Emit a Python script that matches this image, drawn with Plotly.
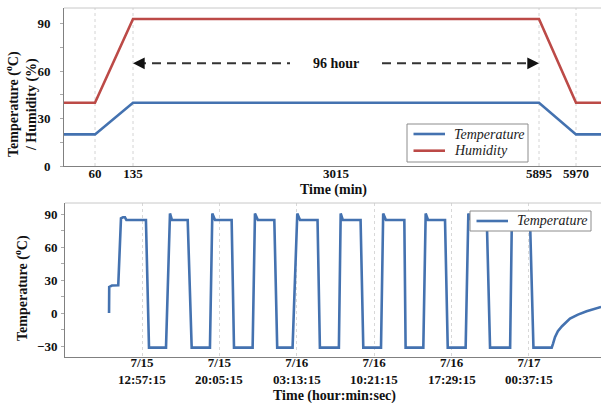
import numpy as np
import plotly.graph_objects as go

# ---------------- data ----------------
# Top panel: programmed profile (time in minutes)
profile_time_min = [0, 60, 135, 5895, 5970, 6030]
profile_temperature = [20, 20, 40, 40, 20, 20]
profile_humidity = [40, 40, 93, 93, 40, 40]
profile_ticks = [60, 135, 3015, 5895, 5970]
hold_label = "96 hour"
hold_arrow_level = 65

# broken (piecewise) time scale of the top panel
scale_break_min = [0, 60, 135, 5895, 5970, 6030]
scale_break_pos = [0, 31, 69, 475, 512, 537]

# Bottom panel: measured temperature
measured_time = [
    "2021-07-15 09:55", "2021-07-15 09:56", "2021-07-15 10:11", "2021-07-15 10:46",
    "2021-07-15 11:01", "2021-07-15 11:12", "2021-07-15 11:23", "2021-07-15 11:31",
    "2021-07-15 13:19", "2021-07-15 13:36", "2021-07-15 15:10", "2021-07-15 15:32",
    "2021-07-15 15:43", "2021-07-15 17:10", "2021-07-15 17:32", "2021-07-15 19:13",
    "2021-07-15 19:26", "2021-07-15 19:41", "2021-07-15 21:13", "2021-07-15 21:26",
    "2021-07-15 23:09", "2021-07-15 23:22", "2021-07-15 23:38", "2021-07-16 01:09",
    "2021-07-16 01:25", "2021-07-16 02:50", "2021-07-16 03:16", "2021-07-16 03:31",
    "2021-07-16 05:08", "2021-07-16 05:21", "2021-07-16 07:06", "2021-07-16 07:16",
    "2021-07-16 07:28", "2021-07-16 09:06", "2021-07-16 09:21", "2021-07-16 10:59",
    "2021-07-16 11:11", "2021-07-16 11:26", "2021-07-16 13:08", "2021-07-16 13:15",
    "2021-07-16 14:53", "2021-07-16 15:06", "2021-07-16 15:19", "2021-07-16 16:53",
    "2021-07-16 17:08", "2021-07-16 18:47", "2021-07-16 19:02", "2021-07-16 19:17",
    "2021-07-16 20:44", "2021-07-16 21:02", "2021-07-16 22:53", "2021-07-16 23:03",
    "2021-07-16 23:20", "2021-07-17 00:43", "2021-07-17 01:02", "2021-07-17 02:43",
    "2021-07-17 02:50", "2021-07-17 03:01", "2021-07-17 03:17", "2021-07-17 03:40",
    "2021-07-17 04:24", "2021-07-17 05:08", "2021-07-17 05:56", "2021-07-17 07:16",
]
measured_temperature = [
    0, 23.7, 25, 25.2,
    86, 87, 87, 84.5,
    84.5, -31.5, -31.5, 90.5,
    84.5, 84.5, -31.5, -31.5,
    90.5, 84.5, 84.5, -31.5,
    -31.5, 90.5, 84.5, 84.5,
    -31.5, -31.5, 90.5, 84.5,
    84.5, -31.5, -31.5, 90.5,
    84.5, 84.5, -31.5, -31.5,
    90.5, 84.5, 84.5, -31.5,
    -31.5, 90.5, 84.5, 84.5,
    -31.5, -31.5, 90.5, 84.5,
    84.5, -31.5, -31.5, 90.5,
    84.5, 84.5, -31.5, -31.5,
    -28, -22, -16.5, -12,
    -5.1, -1.5, 1.5, 5.5,
]
time_ticks = ["2021-07-15 12:57:15", "2021-07-15 20:05:15", "2021-07-16 03:13:15",
              "2021-07-16 10:21:15", "2021-07-16 17:29:15", "2021-07-17 00:37:15"]
tick_dates = ["7/15", "7/15", "7/16", "7/16", "7/16", "7/17"]
tick_clock = ["12:57:15", "20:05:15", "03:13:15", "10:21:15", "17:29:15", "00:37:15"]
time_range = ["2021-07-15 05:51:27", "2021-07-17 07:15:33"]

top_legend_names = ["Temperature", "Humidity"]
bottom_legend_names = ["Temperature"]


def to_pos(t):
    return np.interp(t, scale_break_min, scale_break_pos)


BLUE = "#4472B0"
RED = "#BC4A47"
FONT = "Liberation Serif"
AXIS_COL = "#808080"
W, H = 601, 403

fig = go.Figure()

fig.add_trace(go.Scatter(x=to_pos(profile_time_min), y=profile_temperature, mode="lines",
                         name=top_legend_names[0], line=dict(color=BLUE, width=2.6),
                         xaxis="x", yaxis="y", showlegend=False))
fig.add_trace(go.Scatter(x=to_pos(profile_time_min), y=profile_humidity, mode="lines",
                         name=top_legend_names[1], line=dict(color=RED, width=2.6),
                         xaxis="x", yaxis="y", showlegend=False))
fig.add_trace(go.Scatter(x=measured_time, y=measured_temperature, mode="lines",
                         name=bottom_legend_names[0], line=dict(color=BLUE, width=2.6),
                         xaxis="x2", yaxis="y2", showlegend=False))

tick_font = dict(family=FONT, size=13, color="#111111", weight="bold")

fig.update_layout(
    width=W, height=H, autosize=False,
    margin=dict(l=0, r=0, t=0, b=0, autoexpand=False),
    paper_bgcolor="white", plot_bgcolor="white",
    font=dict(family=FONT, color="#111111"),
    xaxis=dict(domain=[64 / W, 1], range=[0, scale_break_pos[-1]], anchor="y",
               tickvals=to_pos(profile_ticks), ticktext=[str(v) for v in profile_ticks],
               showgrid=False, zeroline=False, showline=True, linecolor=AXIS_COL,
               linewidth=1, ticks="", tickfont=tick_font, ticklabelstandoff=-5,
               automargin=False),
    yaxis=dict(domain=[1 - 166 / H, 1 - 8 / H], range=[0, 100], anchor="x",
               tickvals=[0, 30, 60, 90], showgrid=False, zeroline=False,
               showline=True, linecolor=AXIS_COL, linewidth=1, ticks="",
               minor=dict(dtick=15, ticks="outside", ticklen=3, tickcolor="#aaaaaa"),
               tickfont=tick_font, ticklabelstandoff=10, automargin=False),
    xaxis2=dict(domain=[65 / W, 1], type="date", range=time_range, anchor="y2",
                tickvals=time_ticks, ticktext=tick_dates,
                showgrid=True, gridcolor="#d8d8d8", griddash="dot", gridwidth=1,
                zeroline=False, showline=True, linecolor=AXIS_COL, linewidth=1,
                ticks="", tickfont=tick_font, ticklabelstandoff=-7, automargin=False),
    yaxis2=dict(domain=[1 - 357 / H, 1 - 203 / H], range=[-40, 100], anchor="x2",
                tickvals=[-30, 0, 30, 60, 90], showgrid=False, zeroline=False,
                showline=True, linecolor=AXIS_COL, linewidth=1, ticks="",
                minor=dict(dtick=15, ticks="outside", ticklen=3, tickcolor="#aaaaaa"),
                tickfont=tick_font, ticklabelstandoff=4, automargin=False),
    showlegend=False,
)

shapes = []
# top borders (light)
for ya, xa in (("y", "x"), ("y2", "x2")):
    shapes.append(dict(type="line", xref=f"{xa} domain", yref=f"{ya} domain",
                       x0=0, x1=1, y0=1, y1=1, line=dict(color="#c8c8c8", width=1)))
# dotted guide lines in the top panel at the profile breakpoints
for t in profile_time_min[1:5]:
    p = float(to_pos(t))
    shapes.append(dict(type="line", xref="x", yref="y domain", x0=p, x1=p, y0=0, y1=1,
                       line=dict(color="#d4d4d4", width=1, dash="dot"), layer="below"))
# dashed hold arrows
hold_start = float(to_pos(profile_time_min[2]))
hold_end = float(to_pos(profile_time_min[3]))
hold_mid = float(to_pos((profile_time_min[2] + profile_time_min[3]) / 2))
gap = 46
shapes.append(dict(type="line", xref="x", yref="y", x0=hold_start + 4, x1=hold_mid - gap,
                   y0=hold_arrow_level, y1=hold_arrow_level,
                   line=dict(color="#333333", width=2, dash="9px,6px")))
shapes.append(dict(type="line", xref="x", yref="y", x0=hold_mid + gap, x1=hold_end - 4,
                   y0=hold_arrow_level, y1=hold_arrow_level,
                   line=dict(color="#333333", width=2, dash="9px,6px")))

title_font = dict(family=FONT, size=14, color="#111111")
legend_font = dict(family=FONT, size=14, color="#222222", style="italic")
ann = [
    dict(text="<b>Temperature (<sup>o</sup>C)<br>/ Humidity (%)</b>", xref="paper", yref="paper",
         x=21 / W, y=1 - 104 / H, textangle=-90, showarrow=False,
         xanchor="center", yanchor="middle", font=title_font),
    dict(text="<b>Time (min)</b>", xref="paper", yref="paper", x=334 / W, y=1 - 190 / H,
         showarrow=False, xanchor="center", yanchor="middle", font=title_font),
    dict(text="<b>Temperature (<sup>o</sup>C)</b>", xref="paper", yref="paper",
         x=21 / W, y=1 - 288 / H, textangle=-90, showarrow=False,
         xanchor="center", yanchor="middle", font=title_font),
    dict(text="<b>Time (hour:min:sec)</b>", xref="paper", yref="paper", x=335 / W,
         y=1 - 395.5 / H, showarrow=False, xanchor="center", yanchor="middle", font=title_font),
    dict(text=f"<b>{hold_label}</b>", xref="x", yref="y", x=hold_mid, y=hold_arrow_level,
         showarrow=False, xanchor="center", yanchor="middle", font=title_font),
    dict(text="", xref="x", yref="y", x=hold_start, y=hold_arrow_level,
         ax=hold_start + 6, ay=hold_arrow_level, axref="x", ayref="y",
         showarrow=True, arrowhead=2, arrowsize=1.3, arrowwidth=1.8, arrowcolor="#111111",
         standoff=0),
    dict(text="", xref="x", yref="y", x=hold_end, y=hold_arrow_level,
         ax=hold_end - 6, ay=hold_arrow_level, axref="x", ayref="y",
         showarrow=True, arrowhead=2, arrowsize=1.3, arrowwidth=1.8, arrowcolor="#111111",
         standoff=0),
]
# second line of the date-time tick labels (clock time), placed at the tick values
for tv, tc in zip(time_ticks, tick_clock):
    ann.append(dict(text=f"<b>{tc}</b>", xref="x2", yref="paper", x=tv, y=1 - 379.5 / H,
                    showarrow=False, xanchor="center", yanchor="middle",
                    font=dict(family=FONT, size=13, color="#111111")))


# legends (boxed, drawn to match the original compact layout)
def add_legend(x0, y0, x1, y1, names, colors, row_h):
    shapes.append(dict(type="rect", xref="paper", yref="paper",
                       x0=x0 / W, x1=x1 / W, y0=1 - y0 / H, y1=1 - y1 / H,
                       fillcolor="white", line=dict(color="#8c8c8c", width=1), layer="above"))
    for i, (nm, col) in enumerate(zip(names, colors)):
        yc = y0 + 10 + i * row_h
        shapes.append(dict(type="line", xref="paper", yref="paper",
                           x0=(x0 + 6.5) / W, x1=(x0 + 38) / W, y0=1 - yc / H, y1=1 - yc / H,
                           line=dict(color=col, width=2.6), layer="above"))
        ann.append(dict(text=nm, xref="paper", yref="paper", x=(x0 + 45) / W, y=1 - yc / H,
                        showarrow=False, xanchor="left", yanchor="middle", font=legend_font))


add_legend(407, 124, 528, 162, top_legend_names, [BLUE, RED], 16.7)
add_legend(470, 211, 591, 231, bottom_legend_names, [BLUE], 0)

fig.update_layout(shapes=shapes, annotations=ann)

fig.write_html("out.html", post_script="document.body.style.margin='0';",
               config={"displayModeBar": False})
